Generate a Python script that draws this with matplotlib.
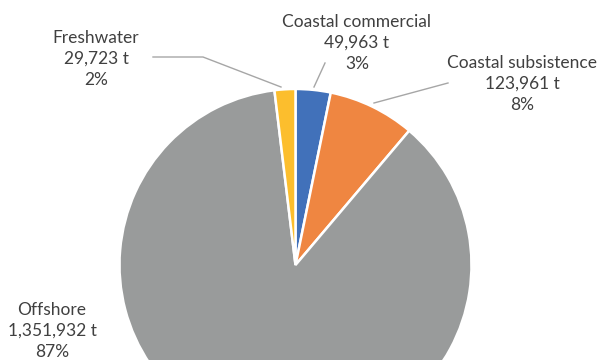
import matplotlib
matplotlib.use("Agg")
import matplotlib.pyplot as plt

# Catch by sector, tonnes (clockwise from 12 o'clock)
sectors = ["Coastal commercial", "Coastal subsistence", "Offshore", "Freshwater"]
tonnes = [49963, 123961, 1351932, 29723]
colors = ["#4171BA", "#EF8641", "#999B9B", "#FCBE2D"]

# label text centres and leader lines, in pixel coordinates (y from the top)
label_xy = [(357, 43), (522, 84), (52, 331), (96, 59)]
leaders = [
    [(325, 63), (314, 87)],
    [(448, 83), (374, 103)],
    None,
    [(153, 57), (203, 57), (281, 87)],
]

W, H = 600, 360
fig = plt.figure(figsize=(W / 100, H / 100), dpi=100)
ax = fig.add_axes([0, 0, 1, 1])

ax.pie(tonnes, colors=colors, startangle=90, counterclock=False,
       center=(295.5, H - 265), radius=176, explode=[0.03] * 4,
       wedgeprops=dict(edgecolor="white", linewidth=1.8))

# pie() rescales the axes, so fix the pixel frame afterwards
ax.set_xlim(0, W)
ax.set_ylim(0, H)
ax.set_aspect("equal")
ax.axis("off")

total = sum(tonnes)
for name, val, (lx, ly), lead in zip(sectors, tonnes, label_xy, leaders):
    pct = round(100 * val / total)
    ax.text(lx, H - ly, f"{name}\n{val:,} t\n{pct}%", ha="center", va="center",
            fontsize=12.5, family="Lato", color="#404040", linespacing=1.4)
    if lead:
        xs = [p[0] for p in lead]
        ys = [H - p[1] for p in lead]
        ax.plot(xs, ys, color="#A6A6A6", lw=1.0)

fig.savefig("out.png", dpi=100)
